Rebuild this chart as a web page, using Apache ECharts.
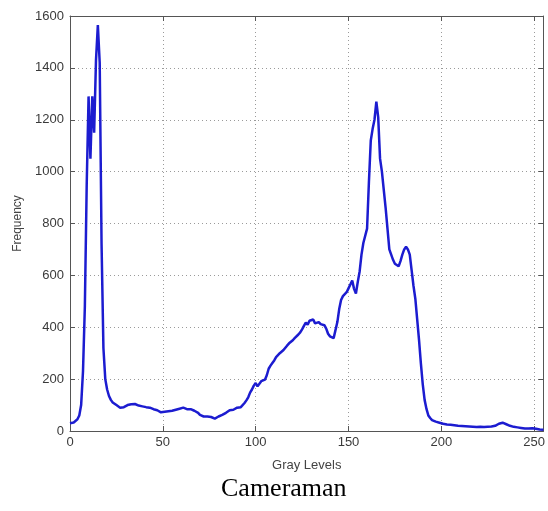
<!DOCTYPE html>
<html>
<head>
<meta charset="utf-8">
<title>Cameraman histogram</title>
<script src="https://cdn.jsdelivr.net/npm/echarts@6/dist/echarts.min.js"></script>
<style>
  html, body { margin: 0; padding: 0; background: #fff; }
  #chart { width: 548px; height: 511px; }
</style>
</head>
<body>
<div id="chart"></div>
<script>
// Gray level histogram of the cameraman image (bins 0..255)
const grayLevels = Array.from({ length: 256 }, (_, i) => i);

const frequency = [
  30, 27, 33, 38, 45, 60, 100, 230, 480, 950,
  1290, 1050, 1290, 1150, 1430, 1565, 1420, 720, 320, 200,
  160, 135, 120, 110, 104, 100, 95, 90, 88, 92,
  96, 100, 98, 103, 96, 104, 100, 98, 94, 95,
  90, 92, 88, 90, 86, 84, 82, 80, 76, 72,
  70, 74, 72, 76, 74, 78, 80, 82, 84, 86,
  88, 90, 86, 84, 82, 84, 80, 78, 76, 70,
  62, 58, 56, 54, 56, 52, 54, 50, 48, 52,
  56, 58, 62, 66, 70, 74, 80, 84, 82, 88,
  90, 88, 92, 96, 108, 118, 130, 148, 160, 175,
  185, 172, 178, 192, 186, 198, 215, 240, 252, 262,
  272, 285, 290, 300, 305, 312, 318, 330, 338, 345,
  350, 358, 362, 372, 380, 392, 405, 418, 410, 425,
  418, 430, 415, 422, 420, 412, 418, 408, 395, 375,
  365, 362, 358, 365, 420, 470, 505, 520, 525, 535,
  550, 565, 580, 548, 530, 575, 615, 680, 725, 718,
  780, 960, 1120, 1165, 1200, 1270, 1210, 1050, 1000, 930,
  860, 780, 700, 680, 660, 645, 638, 635, 655, 680,
  700, 710, 700, 680, 620, 560, 510, 430, 350, 260,
  180, 120, 85, 60, 50, 42, 38, 36, 33, 32,
  31, 28, 30, 25, 22, 24, 20, 22, 18, 20,
  17, 19, 16, 18, 15, 17, 19, 16, 18, 15,
  17, 16, 18, 15, 17, 16, 18, 17, 19, 20,
  24, 28, 30, 32, 30, 26, 22, 20, 18, 16,
  15, 14, 13, 12, 11, 10, 12, 10, 9, 11,
  8, 9, 7, 6, 8, 5
];

const xTicks = [0, 50, 100, 150, 200, 250];
const yTicks = [0, 200, 400, 600, 800, 1000, 1200, 1400, 1600];

const sans = 'Liberation Sans, Arial, sans-serif';
const labelStyle = { color: '#3a3a3a', fontSize: 13, fontFamily: sans };
const frameLine = { show: true, onZero: false, lineStyle: { color: '#555', width: 1 } };
const innerTick = { show: true, inside: true, length: 5, lineStyle: { color: '#555' } };
const dotted = { show: true, lineStyle: { color: '#9a9a9a', type: [1, 3], width: 1 } };
const plain = v => String(v);

const chart = echarts.init(document.getElementById('chart'), null, { renderer: 'canvas' });

chart.setOption({
  animation: false,
  backgroundColor: '#fff',
  title: {
    text: 'Cameraman',
    left: 221,
    top: 476,
    padding: 0,
    textStyle: { fontFamily: 'Liberation Serif, Times New Roman, serif', fontSize: 26, fontWeight: 'normal', color: '#000' }
  },
  grid: { left: 70, top: 16, width: 475, height: 415, containLabel: false },
  xAxis: [
    {
      type: 'value',
      min: xTicks[0],
      max: 255,
      interval: xTicks[1] - xTicks[0],
      position: 'bottom',
      name: 'Gray Levels',
      nameLocation: 'middle',
      nameGap: 28,
      nameTextStyle: { color: '#444', fontSize: 13, fontFamily: sans },
      axisLine: frameLine,
      axisTick: innerTick,
      axisLabel: Object.assign({ margin: 5, showMaxLabel: false, formatter: plain }, labelStyle),
      splitLine: dotted
    },
    {
      type: 'value',
      min: xTicks[0],
      max: 255,
      interval: xTicks[1] - xTicks[0],
      position: 'top',
      axisLine: frameLine,
      axisTick: innerTick,
      axisLabel: { show: false },
      splitLine: { show: false }
    }
  ],
  yAxis: [
    {
      type: 'value',
      min: yTicks[0],
      max: yTicks[yTicks.length - 1],
      interval: yTicks[1] - yTicks[0],
      position: 'left',
      name: 'Frequency',
      nameLocation: 'middle',
      nameGap: 46,
      nameRotate: 90,
      nameTextStyle: { color: '#444', fontSize: 12, fontFamily: sans },
      axisLine: frameLine,
      axisTick: innerTick,
      axisLabel: Object.assign({ margin: 6, formatter: plain }, labelStyle),
      splitLine: dotted
    },
    {
      type: 'value',
      min: yTicks[0],
      max: yTicks[yTicks.length - 1],
      interval: yTicks[1] - yTicks[0],
      position: 'right',
      axisLine: frameLine,
      axisTick: innerTick,
      axisLabel: { show: false },
      splitLine: { show: false }
    }
  ],
  series: [
    {
      type: 'line',
      xAxisIndex: 0,
      yAxisIndex: 0,
      data: grayLevels.map((g, i) => [g, frequency[i]]),
      showSymbol: false,
      lineStyle: { color: '#1c1cd0', width: 2.5 },
      z: 5
    }
  ]
});
</script>
</body>
</html>
